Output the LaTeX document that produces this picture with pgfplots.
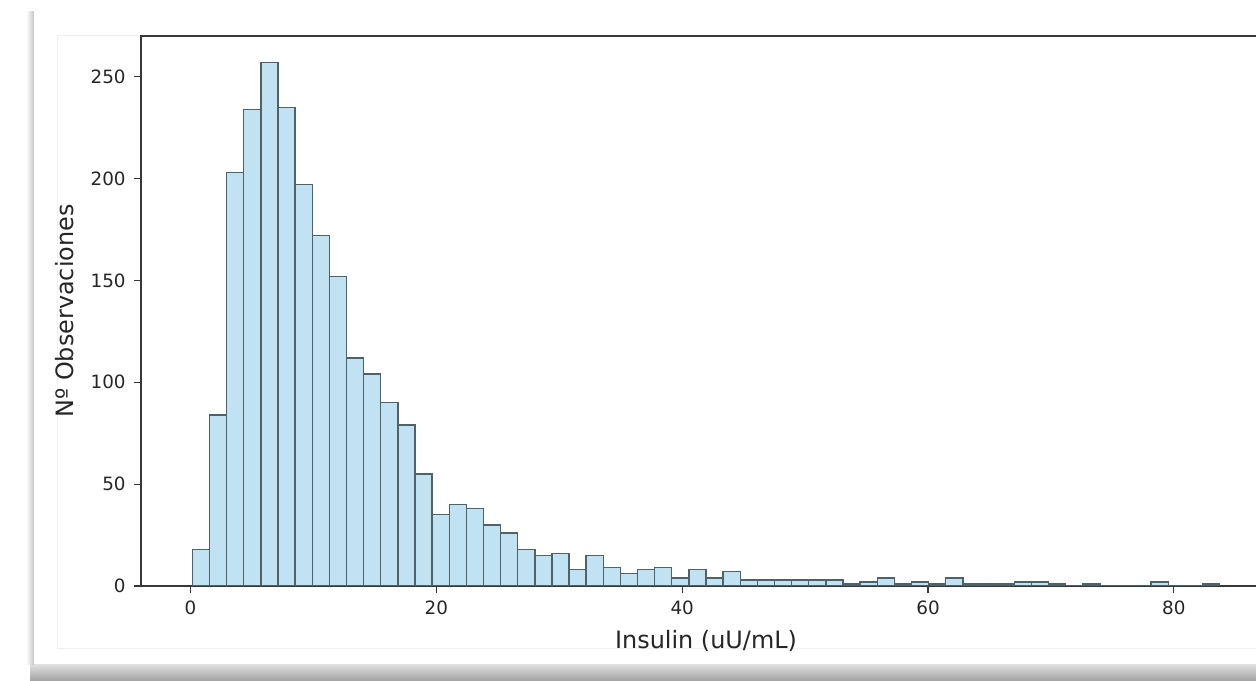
\documentclass[border=0pt]{standalone}
\usepackage{fontspec}
\setmainfont{DejaVu Sans}
\usepackage{pgfplots}
\pgfplotsset{compat=1.18}
\definecolor{barfill}{RGB}{192,226,242}
\definecolor{baredge}{RGB}{78,98,104}
\definecolor{spine}{RGB}{55,55,55}
\begin{document}
\begin{tikzpicture}[x=0.5bp,y=0.5bp]
% units are image pixels, origin bottom left of the 1256x680 picture
\useasboundingbox (0,0) rectangle (1256,680);
\clip (0,0) rectangle (1256,680);
% screenshot card and its shadow
\shade[bottom color=gray!70, top color=white] (30,0) rectangle (1256,24);
\shade[left color=white, right color=gray!45] (26,16) rectangle (34,668);
\fill[white] (34,16) rectangle (1256,668);
\draw[gray!12, line width=0.5bp] (57,32) rectangle (1300,644);
\begin{axis}[
    at={(70.5bp,47bp)}, anchor=south west,
    width=565bp, height=275bp, scale only axis,
    xmin=-4.03, xmax=87.91, ymin=0, ymax=270,
    xtick={0,20,40,60,80}, ytick={0,50,100,150,200,250},
    tick pos=left, tick align=outside, major tick length=3.5bp,
    major tick style={spine, line width=0.6bp},
    axis line style={spine, line width=0.8bp},
    /pgf/number format/assume math mode=true,
    ticklabel style={font=\fontsize{9.2}{11}\selectfont, text=black!85, inner sep=0pt},
    xticklabel style={anchor=north, yshift=-3.5bp},
    yticklabel style={anchor=east, xshift=-4bp},
    label style={font=\fontsize{12}{14}\selectfont, text=black!85, inner sep=0pt},
    xlabel={Insulin (uU/mL)},
    xlabel style={at={([yshift=-31bp]axis description cs:0.5,0)}, anchor=base},
    ylabel={Nº Observaciones},
    ylabel style={at={([xshift=-34bp]axis description cs:0,0.5)}, anchor=base},
]
\addplot[ybar interval, fill=barfill, draw=baredge, line width=0.7bp] coordinates {
(0.150,18)(1.543,84)(2.936,203)(4.329,234)(5.722,257)(7.115,235)
(8.508,197)(9.901,172)(11.294,152)(12.687,112)(14.080,104)(15.473,90)
(16.866,79)(18.259,55)(19.652,35)(21.045,40)(22.438,38)(23.831,30)
(25.224,26)(26.617,18)(28.010,15)(29.403,16)(30.796,8)(32.189,15)
(33.582,9)(34.975,6)(36.368,8)(37.761,9)(39.154,4)(40.547,8)
(41.940,4)(43.333,7)(44.726,3)(46.119,3)(47.512,3)(48.905,3)
(50.298,3)(51.691,3)(53.084,1)(54.477,2)(55.870,4)(57.263,1)
(58.656,2)(60.049,1)(61.442,4)(62.835,1)(64.228,1)(65.621,1)
(67.014,2)(68.407,2)(69.800,1)(71.193,0)(72.586,1)(73.979,0)
(75.372,0)(76.765,0)(78.158,2)(79.551,0)(80.944,0)(82.337,1)
(83.730,1)
};
\end{axis}
\end{tikzpicture}
\end{document}
